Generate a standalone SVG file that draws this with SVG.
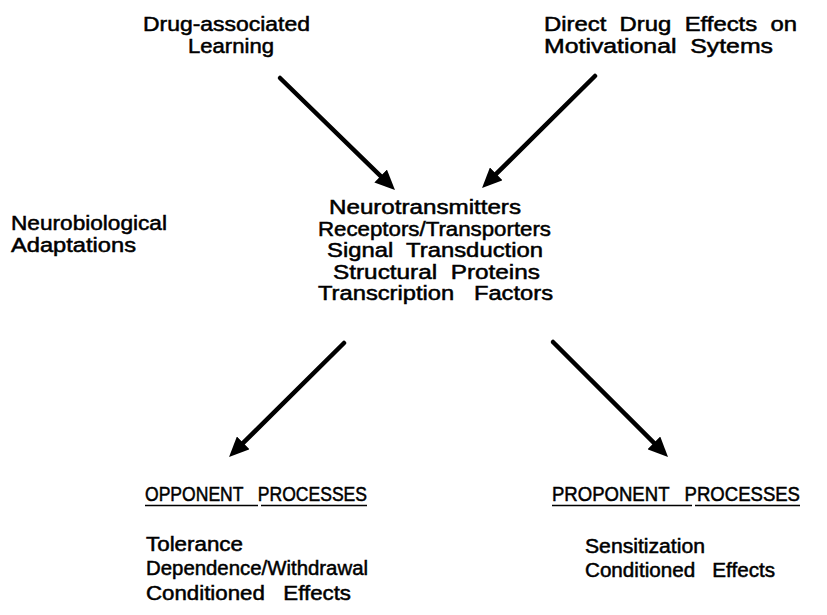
<svg xmlns="http://www.w3.org/2000/svg" width="827" height="615" viewBox="0 0 827 615">
<style>
  text { font-family: "Liberation Sans", Arial, sans-serif; font-size: 20px; font-weight: normal; fill: #000; stroke: #000; stroke-width: 0.5; white-space: pre; }
  .arrow { stroke: #000; stroke-width: 4.5; fill: none; stroke-linecap: round; marker-end: url(#head); }
  .ul { stroke: #000; stroke-width: 1.5; }
</style>
<defs>
  <marker id="head" markerUnits="userSpaceOnUse" viewBox="0 0 20 18" markerWidth="20" markerHeight="18" refX="4" refY="9" orient="auto">
    <path d="M0,0 L20,9 L0,18 z" fill="#000"/>
  </marker>
</defs>
<rect width="827" height="615" fill="#fff"/>

<g id="node-learning">
  <text x="143" y="31" textLength="167" lengthAdjust="spacingAndGlyphs">Drug-associated</text>
  <text x="188" y="53" textLength="86" lengthAdjust="spacingAndGlyphs">Learning</text>
</g>

<g id="node-direct">
  <text x="544" y="31" textLength="253" lengthAdjust="spacingAndGlyphs">Direct  Drug  Effects  on</text>
  <text x="544" y="53" textLength="229" lengthAdjust="spacingAndGlyphs">Motivational  Sytems</text>
</g>

<g id="node-neurobio">
  <text x="11" y="230" textLength="156" lengthAdjust="spacingAndGlyphs">Neurobiological</text>
  <text x="11" y="252" textLength="125" lengthAdjust="spacingAndGlyphs">Adaptations</text>
</g>

<g id="node-center">
  <text x="329" y="214" textLength="192" lengthAdjust="spacingAndGlyphs">Neurotransmitters</text>
  <text x="318" y="236" textLength="233" lengthAdjust="spacingAndGlyphs">Receptors/Transporters</text>
  <text x="327" y="257" textLength="216" lengthAdjust="spacingAndGlyphs">Signal  Transduction</text>
  <text x="333" y="279" textLength="207" lengthAdjust="spacingAndGlyphs">Structural  Proteins</text>
  <text x="318" y="300" textLength="235" lengthAdjust="spacingAndGlyphs">Transcription   Factors</text>
</g>

<g id="node-opponent">
  <text x="145" y="501" textLength="222" lengthAdjust="spacingAndGlyphs">OPPONENT   PROCESSES</text>
  <line class="ul" x1="145" y1="505.5" x2="258" y2="505.5"/>
  <line class="ul" x1="261" y1="505.5" x2="367" y2="505.5"/>
  <text x="146" y="551" textLength="97" lengthAdjust="spacingAndGlyphs">Tolerance</text>
  <text x="146" y="575" textLength="222" lengthAdjust="spacingAndGlyphs">Dependence/Withdrawal</text>
  <text x="146" y="600" textLength="205" lengthAdjust="spacingAndGlyphs">Conditioned   Effects</text>
</g>

<g id="node-proponent">
  <text x="552" y="501" textLength="248" lengthAdjust="spacingAndGlyphs">PROPONENT   PROCESSES</text>
  <line class="ul" x1="552" y1="505.5" x2="692" y2="505.5"/>
  <line class="ul" x1="695" y1="505.5" x2="800" y2="505.5"/>
  <text x="585" y="553" textLength="120" lengthAdjust="spacingAndGlyphs">Sensitization</text>
  <text x="585" y="577" textLength="190" lengthAdjust="spacingAndGlyphs">Conditioned   Effects</text>
</g>

<g id="connectors">
  <line class="arrow" x1="280" y1="78" x2="383.5" y2="178.8"/>
  <line class="arrow" x1="595" y1="76" x2="493.4" y2="176.7"/>
  <line class="arrow" x1="344" y1="343" x2="240.4" y2="445.7"/>
  <line class="arrow" x1="553" y1="342" x2="656.7" y2="445.7"/>
</g>
</svg>
